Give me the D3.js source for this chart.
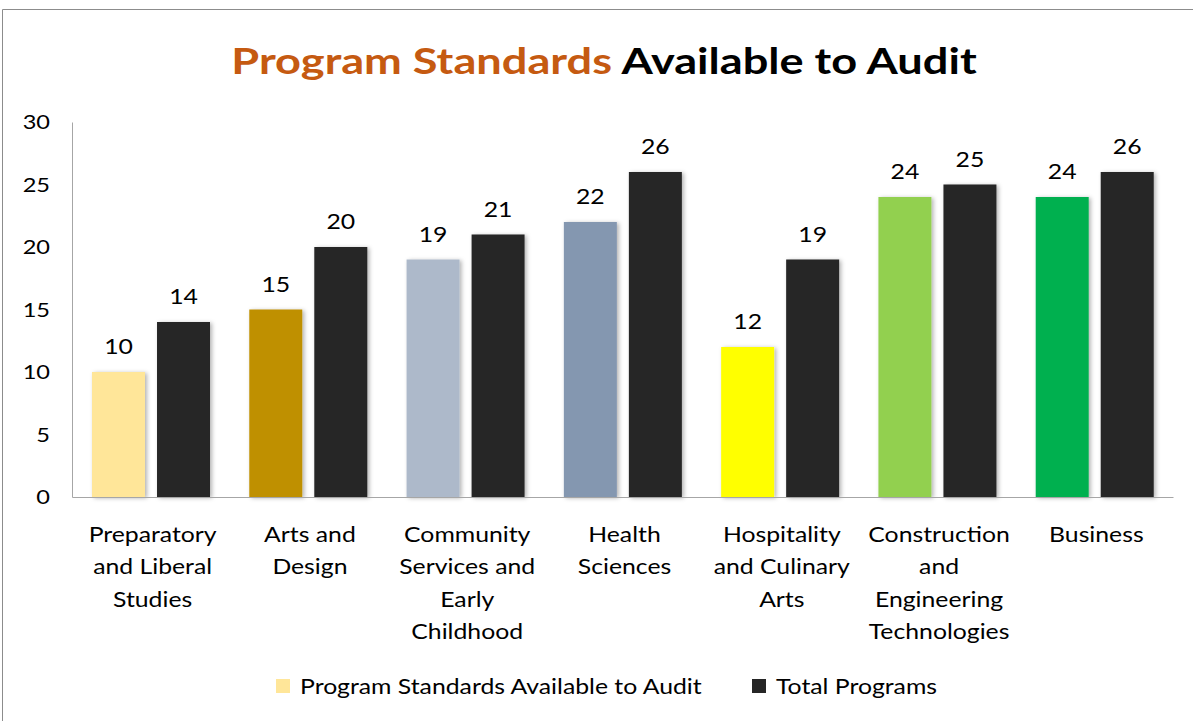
<!DOCTYPE html>
<html><head><meta charset="utf-8">
<script src="https://cdn.jsdelivr.net/npm/d3@7"></script>
<style>body{margin:0;background:#fff}svg{display:block}</style>
</head><body>
<svg id="c" width="1193" height="721"></svg>
<script>
const categories = ["Preparatory\nand Liberal\nStudies","Arts and\nDesign","Community\nServices and\nEarly\nChildhood","Health\nSciences","Hospitality\nand Culinary\nArts","Construction\nand\nEngineering\nTechnologies","Business"];
const availableValues = [10,15,19,22,12,24,24];
const totalValues = [14,20,21,26,19,25,26];
const availableColors = ["#FFE699","#BF9000","#ADB9CA","#8497B0","#FFFF00","#92D050","#00B050"];
const totalColor = "#262626";
const seriesNames = ["Program Standards Available to Audit","Total Programs"];
const yTicks = [0,5,10,15,20,25,30];

(function(){
const F = "Lato, 'Open Sans', sans-serif";
const SX = 1.18;
const svg = d3.select("#c");
const defs = svg.append("defs");
const f = defs.append("filter").attr("id","sh").attr("x","-20%").attr("y","-20%").attr("width","150%").attr("height","150%");
f.append("feDropShadow").attr("dx",2).attr("dy",1).attr("stdDeviation",2).attr("flood-color","#000").attr("flood-opacity",0.3);

svg.append("path").attr("d","M2.5,721 V9.5 H1193").attr("fill","none").attr("stroke","#8c8c8c").attr("stroke-width",1);

function txt(x,y,sx){
  return svg.append("g").attr("transform",`translate(${x},${y}) scale(${sx||SX},1)`).append("text")
    .attr("font-family",F).attr("fill","#000");
}

const pL=72, pR=1173, pT=122, pB=497;
const x0 = d3.scaleBand().domain(categories).range([pL,pR]).padding(0);
const x1 = d3.scaleBand().domain([0,1]).range([20, 138]).paddingInner(0.185).paddingOuter(0);
const y = d3.scaleLinear().domain([0,30]).range([pB,pT]);

const t = txt(604,74,1.22).attr("text-anchor","middle").attr("font-weight","bold").attr("font-size",37);
t.append("tspan").attr("fill","#C55A11").text("Program Standards");
t.append("tspan").attr("fill","#000").text(" Available to Audit");

const ya = svg.append("g").attr("transform",`translate(${pL},0)`)
  .call(d3.axisLeft(y).tickValues(yTicks).tickSize(0).tickFormat(""));
ya.select(".domain").attr("stroke","#a6a6a6");
yTicks.forEach(v=>{
  txt(50,y(v)+7).attr("text-anchor","end").attr("font-size",20).text(v);
});

const g = svg.append("g");
categories.forEach((c,i)=>{
  const gx = x0(c);
  const vals=[availableValues[i], totalValues[i]];
  const cols=[availableColors[i], totalColor];
  vals.forEach((v,j)=>{
    g.append("rect").attr("x",gx+x1(j)).attr("y",y(v)).attr("width",x1.bandwidth()).attr("height",y(0)-y(v))
      .attr("fill",cols[j]).attr("filter","url(#sh)");
    txt(gx+x1(j)+x1.bandwidth()/2, y(v)-18).attr("text-anchor","middle").attr("font-size",21).text(v);
  });
});

const xa = svg.append("g").attr("transform",`translate(0,${pB})`)
  .call(d3.axisBottom(x0).tickSize(0).tickFormat(""));
xa.select(".domain").attr("stroke","#a6a6a6");
categories.forEach(c=>{
  const lines=c.split("\n");
  const tx=txt(x0(c)+x0.bandwidth()/2+2, 542).attr("text-anchor","middle").attr("font-size",21);
  lines.forEach((l,k)=>tx.append("tspan").attr("x",0).attr("y",k*32.3).text(l));
});

const leg=[{x:276,name:seriesNames[0],col:availableColors[0]},{x:752,name:seriesNames[1],col:totalColor}];
leg.forEach(d=>{
  svg.append("rect").attr("x",d.x).attr("y",679).attr("width",14).attr("height",14).attr("fill",d.col);
  txt(d.x+24,694).attr("font-size",21).text(d.name);
});
})();
</script>
</body></html>
